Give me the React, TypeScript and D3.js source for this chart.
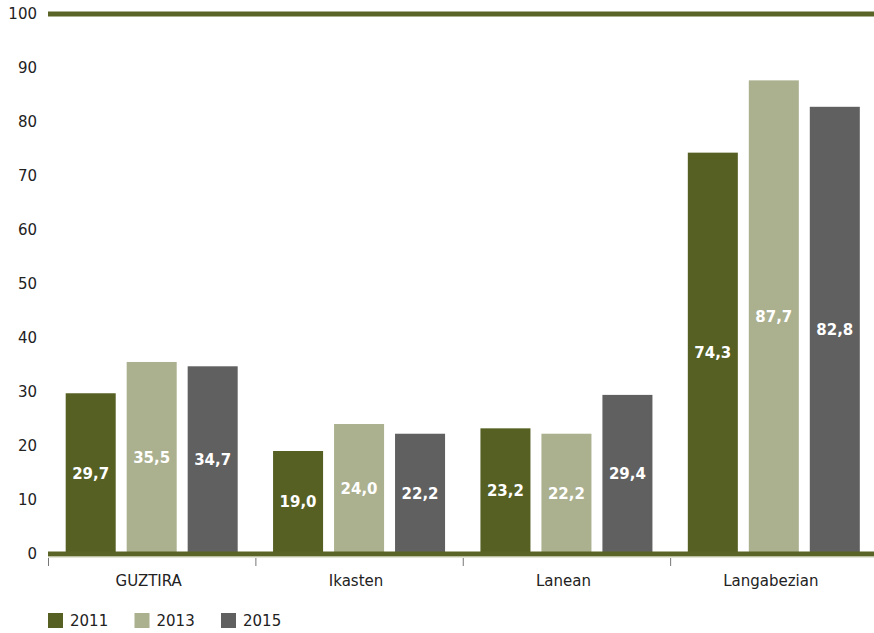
import React from "react";
import * as d3 from "d3";

const categories = ["GUZTIRA", "Ikasten", "Lanean", "Langabezian"];
const years = ["2011", "2013", "2015"];
const values2011 = [29.7, 19.0, 23.2, 74.3];
const values2013 = [35.5, 24.0, 22.2, 87.7];
const values2015 = [34.7, 22.2, 29.4, 82.8];
const yTicks = [0, 10, 20, 30, 40, 50, 60, 70, 80, 90, 100];

const colors = ["#556022", "#abb08e", "#606060"];
const FONT = "'DejaVu Sans', sans-serif";

export default function App() {
  const W = 874, H = 633;
  const series = [values2011, values2013, values2015];
  const x = d3.scaleBand<string>().domain(categories).range([48, 877.5]).paddingInner(0).paddingOuter(0);
  const x1 = d3.scaleBand<string>().domain(years).range([0, x.bandwidth()]).paddingInner(0.18).paddingOuter(0.29);
  const y = d3.scaleLinear().domain([0, 100]).range([553.5, 14]);
  const fmt = (v: number) => v.toFixed(1).replace(".", ",");

  return (
    <svg width={W} height={H} style={{ position: "absolute", left: 0, top: 0 }} fontFamily={FONT}>
      <rect x={0} y={0} width={W} height={H} fill="#fff" />
      {yTicks.map((t) => (
        <text key={t} x={37} y={y(t)} dy="0.35em" textAnchor="end" fontSize={15} fill="#222">
          {t}
        </text>
      ))}
      <line x1={48} x2={W} y1={y(100)} y2={y(100)} stroke="#5a6426" strokeWidth={5} />
      {categories.map((c, i) =>
        series.map((s, j) => {
          const bx = (x(c) as number) + (x1(years[j]) as number);
          const by = y(s[i]);
          const bh = y(0) - by;
          return (
            <g key={c + j}>
              <rect x={bx} y={by} width={x1.bandwidth()} height={bh} fill={colors[j]} />
              <text
                x={bx + x1.bandwidth() / 2}
                y={by + bh / 2}
                dy="0.35em"
                textAnchor="middle"
                fontSize={15}
                fontWeight="bold"
                fill="#fff"
              >
                {fmt(s[i])}
              </text>
            </g>
          );
        })
      )}
      <line x1={48} x2={W} y1={y(0) + 0.5} y2={y(0) + 0.5} stroke="#5a6426" strokeWidth={5} />
      <line x1={48} x2={W} y1={y(0) + 3.5} y2={y(0) + 3.5} stroke="#c9cdb0" strokeWidth={1} />
      {categories.map((c) => (
        <line key={c + "t"} x1={(x(c) as number) + 0.5} x2={(x(c) as number) + 0.5} y1={558} y2={566} stroke="#777" strokeWidth={1} />
      ))}
      {categories.map((c) => (
        <text key={c + "l"} x={(x(c) as number) + x.bandwidth() / 2 - 3} y={581} dy="0.35em" textAnchor="middle" fontSize={15} fill="#222">
          {c}
        </text>
      ))}
      {years.map((yr, j) => (
        <g key={yr} transform={`translate(${48 + j * 86.5},613)`}>
          <rect x={0} y={0} width={15} height={15} fill={colors[j]} />
          <text x={22} y={8} dy="0.35em" fontSize={15} fill="#222">
            {yr}
          </text>
        </g>
      ))}
    </svg>
  );
}
